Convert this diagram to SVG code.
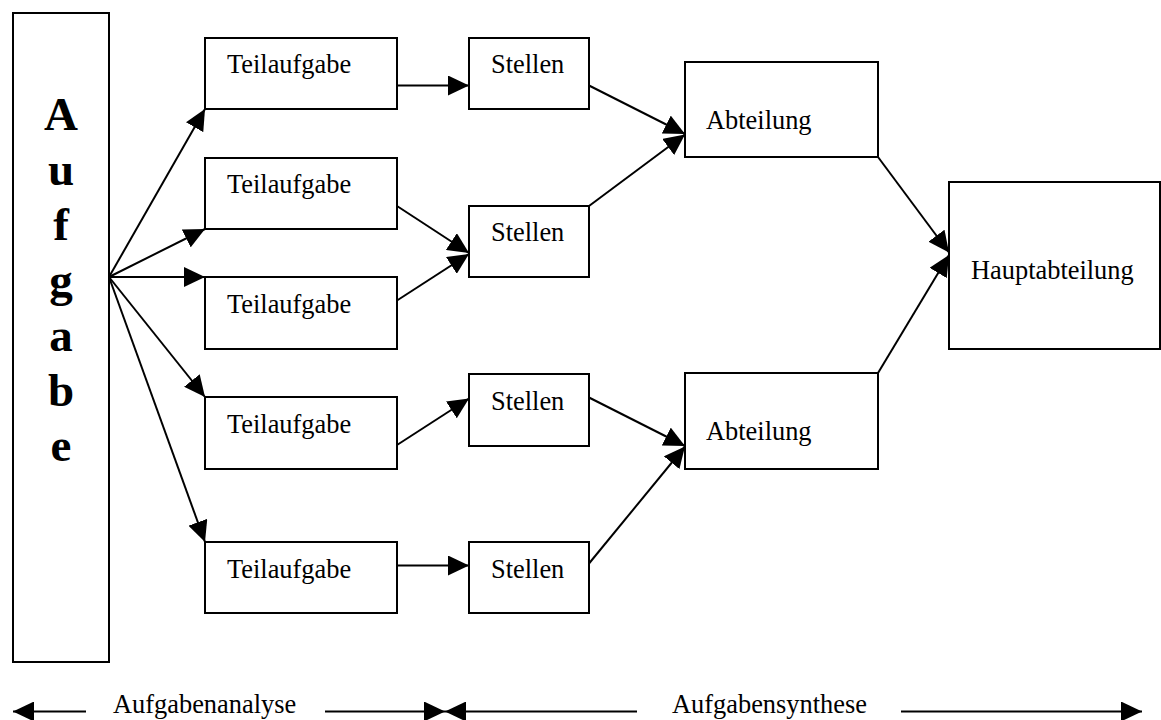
<svg xmlns="http://www.w3.org/2000/svg" width="1161" height="720" viewBox="0 0 1161 720">
  <style>
    .box { fill: #ffffff; stroke: #000000; stroke-width: 2; }
    .lbl { font-family: "Liberation Serif", "Times New Roman", serif; font-size: 26.4px; fill: #000000; }
    .big { font-family: "Liberation Serif", "Times New Roman", serif; font-size: 47px; font-weight: bold; fill: #000000; text-anchor: middle; }
    .edge { stroke: #000000; stroke-width: 2; fill: none; marker-end: url(#head); }
  </style>
  <defs>
    <marker id="head" markerUnits="userSpaceOnUse" markerWidth="21" markerHeight="20" refX="21" refY="10" orient="auto">
      <path d="M0,0 L21,10 L0,20 Z" fill="#000000"/>
    </marker>
  </defs>
  <rect width="1161" height="720" fill="#ffffff"/>

  <!-- main task column -->
  <g id="aufgabe">
    <rect class="box" x="13" y="13" width="96" height="649"/>
    <text class="big" x="61" y="130">A</text>
    <text class="big" x="61" y="185">u</text>
    <text class="big" x="61" y="240">f</text>
    <text class="big" x="61" y="295.5">g</text>
    <text class="big" x="61" y="350.5">a</text>
    <text class="big" x="61" y="406">b</text>
    <text class="big" x="61" y="461">e</text>
  </g>

  <!-- sub-tasks -->
  <g id="teilaufgabe1"><rect class="box" x="205" y="38" width="192" height="71"/><text class="lbl" x="227" y="73">Teilaufgabe</text></g>
  <g id="teilaufgabe2"><rect class="box" x="205" y="158" width="192" height="71"/><text class="lbl" x="227" y="193">Teilaufgabe</text></g>
  <g id="teilaufgabe3"><rect class="box" x="205" y="277" width="192" height="72"/><text class="lbl" x="227" y="313">Teilaufgabe</text></g>
  <g id="teilaufgabe4"><rect class="box" x="205" y="397" width="192" height="72"/><text class="lbl" x="227" y="433">Teilaufgabe</text></g>
  <g id="teilaufgabe5"><rect class="box" x="205" y="542" width="192" height="71"/><text class="lbl" x="227" y="577.5">Teilaufgabe</text></g>

  <!-- positions -->
  <g id="stellen1"><rect class="box" x="469" y="38" width="120" height="71"/><text class="lbl" x="491" y="73">Stellen</text></g>
  <g id="stellen2"><rect class="box" x="469" y="206" width="120" height="71"/><text class="lbl" x="491" y="241">Stellen</text></g>
  <g id="stellen3"><rect class="box" x="469" y="374" width="120" height="72"/><text class="lbl" x="491" y="409.5">Stellen</text></g>
  <g id="stellen4"><rect class="box" x="469" y="542" width="120" height="71"/><text class="lbl" x="491" y="578">Stellen</text></g>

  <!-- departments -->
  <g id="abteilung1"><rect class="box" x="685" y="62" width="193" height="95"/><text class="lbl" x="706" y="128.5">Abteilung</text></g>
  <g id="abteilung2"><rect class="box" x="685" y="373" width="193" height="96"/><text class="lbl" x="706" y="440">Abteilung</text></g>

  <!-- main department -->
  <g id="hauptabteilung"><rect class="box" x="949" y="182" width="211" height="167"/><text class="lbl" x="971" y="278.5">Hauptabteilung</text></g>

  <!-- connectors -->
  <g id="connectors">
    <line class="edge" x1="109" y1="277" x2="205" y2="109"/>
    <line class="edge" x1="109" y1="277" x2="205" y2="229"/>
    <line class="edge" x1="109" y1="277" x2="205" y2="277"/>
    <line class="edge" x1="109" y1="277" x2="205" y2="397"/>
    <line class="edge" x1="109" y1="277" x2="205" y2="542"/>

    <line class="edge" x1="397" y1="85.5" x2="469" y2="85.5"/>
    <line class="edge" x1="397" y1="206" x2="469" y2="253"/>
    <line class="edge" x1="397" y1="300.5" x2="469" y2="254"/>
    <line class="edge" x1="397" y1="445" x2="469" y2="398.5"/>
    <line class="edge" x1="397" y1="565.5" x2="469" y2="565.5"/>

    <line class="edge" x1="589" y1="85.5" x2="685" y2="134"/>
    <line class="edge" x1="589" y1="206" x2="685" y2="134.5"/>
    <line class="edge" x1="589" y1="397.5" x2="685" y2="446"/>
    <line class="edge" x1="589" y1="563.5" x2="685" y2="446.5"/>

    <line class="edge" x1="878" y1="157" x2="949" y2="252.5"/>
    <line class="edge" x1="878" y1="373" x2="949" y2="255"/>

    <!-- phase scale along the bottom -->
    <line class="edge" x1="86" y1="711.5" x2="13" y2="711.5"/>
    <line class="edge" x1="325" y1="711.5" x2="445" y2="711.5"/>
    <line class="edge" x1="637" y1="711.5" x2="445" y2="711.5"/>
    <line class="edge" x1="901" y1="711.5" x2="1142" y2="711.5"/>
  </g>

  <text class="lbl" x="113" y="712.5">Aufgabenanalyse</text>
  <text class="lbl" x="672" y="712.5">Aufgabensynthese</text>
</svg>
